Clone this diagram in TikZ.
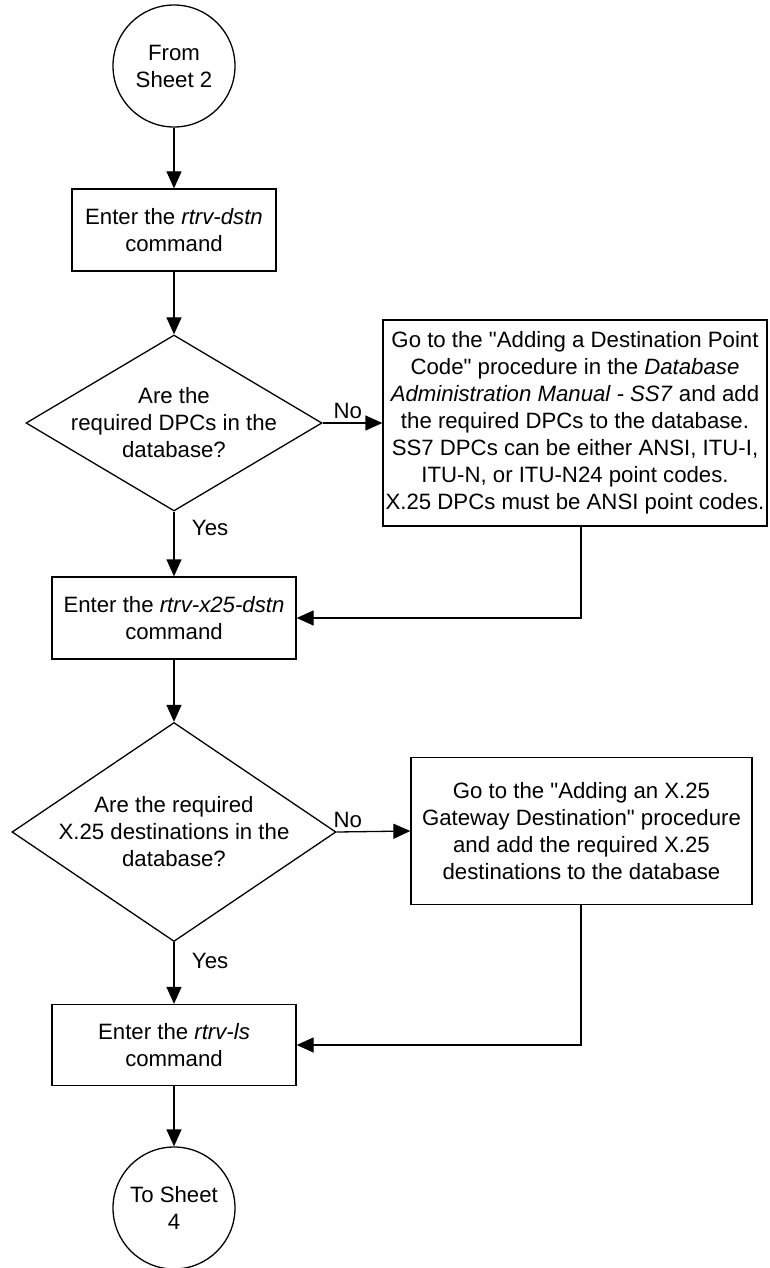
\documentclass[tikz,border=0pt]{standalone}
\usepackage{fontspec}
\newfontfamily\helv{Liberation Sans}
\usetikzlibrary{shapes.geometric,arrows.meta,positioning}

\begin{document}
\begin{tikzpicture}[
    x=1pt, y=-1pt,
    line width=1.3pt,
    every node/.style={font=\helv\fontsize{22.2}{27}\selectfont, align=center},
    block/.style={draw, rectangle, inner sep=0pt},
    term/.style={draw, circle, minimum size=122pt, inner sep=0pt},
    decide/.style={draw, diamond, inner sep=0pt},
    arr/.style={-{Triangle[length=17pt, width=15pt]}}
]
\useasboundingbox (0,0) rectangle (769,1268);

% Main column
\node[term] (from) at (174, 66) {From\\Sheet 2};
\node[block, minimum width=204pt, minimum height=82pt] (dstn) at (174, 230)
    {Enter the \textit{rtrv-dstn}\\command};
\node[decide, minimum width=296pt, minimum height=176pt] (dpcq) at (174, 423) {};
\node (dpcqtext) at (dpcq) {Are the\\required DPCs in the\\database?};
\node[block, minimum width=244pt, minimum height=82pt] (x25dstn) at (174, 618)
    {Enter the \textit{rtrv-x25-dstn}\\command};
\node[decide, minimum width=324pt, minimum height=219pt] (x25q) at (174, 832) {};
\node (x25qtext) at (x25q) {Are the required\\X.25 destinations in the\\database?};
\node[block, minimum width=244pt, minimum height=81pt] (ls) at (174, 1045)
    {Enter the \textit{rtrv-ls}\\command};
\node[term] (to) at (174, 1208) {To Sheet\\4};

% Side boxes
\node[block, minimum width=384pt, minimum height=206pt] (addDPC) at (575, 423)
    {Go to the "Adding a Destination Point\\
     Code" procedure in the \textit{Database}\\
     \textit{Administration Manual - SS7} and add\\
     the required DPCs to the database.\\
     SS7 DPCs can be either ANSI, ITU-I,\\
     ITU-N, or ITU-N24 point codes.\\
     X.25 DPCs must be ANSI point codes.};
\node[block, minimum width=341pt, minimum height=147pt] (addX25) at (581.5, 831)
    {Go to the "Adding an X.25\\
     Gateway Destination" procedure\\
     and add the required X.25\\
     destinations to the database};

% Flow
\draw[arr] (from) -- (dstn);
\draw[arr] (dstn) -- (dpcq);
\draw[arr] (dpcq.east) -- (addDPC.west) node[pos=0.42, above] (no1) {No};
\draw[arr] (dpcq.south) -- (x25dstn.north) node[pos=0.25, right=14pt] (yes1) {Yes};
\draw[arr] (x25dstn) -- (x25q);
\draw[arr] (x25q.east) -- (addX25.west) node[pos=0.15, above] (no2) {No};
\draw[arr] (x25q.south) -- (ls.north) node[pos=0.3, right=14pt] (yes2) {Yes};
\draw[arr] (ls) -- (to);

% Return lines
\coordinate (ret) at (581, 0);
\draw[arr] (addDPC.south -| ret) |- (x25dstn.east);
\draw[arr] (addX25.south -| ret) |- (ls.east);

\end{tikzpicture}
\end{document}
